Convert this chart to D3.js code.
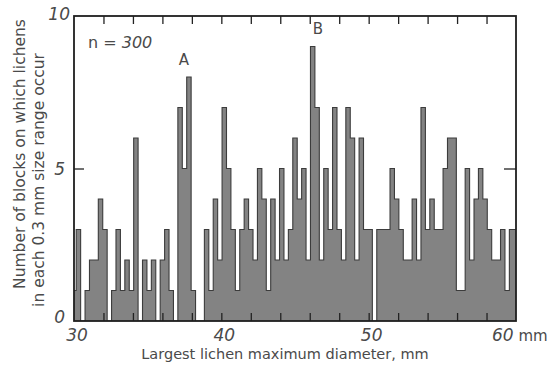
<!DOCTYPE html>
<html>
<head>
<meta charset="utf-8">
<script src="https://cdn.jsdelivr.net/npm/d3@7"></script>
<style>
  html, body { margin: 0; padding: 0; background: #fff; }
  svg { display: block; }
</style>
</head>
<body>
<div id="chart"></div>
<script>
// histogram: 0.3 mm bins, centred on 30.0, 30.3, ... 60.0
const binWidth = 0.3;
const firstCentre = 30;
const counts = [
  1, 3, 0, 1, 2, 2, 4, 3, 0, 1, 3, 1, 2, 1, 6, 0,
  2, 1, 2, 0, 2, 3, 1, 0, 7, 5, 8, 1, 0, 0, 3, 1, 4, 2, 7,
  5, 3, 1, 3, 4, 3, 2, 5, 4, 1, 4, 2, 5, 2, 3, 6, 4,
  5, 2, 9, 7, 2, 5, 3, 7, 3, 2, 7, 6, 2, 6, 3,
  3, 0, 3, 3, 3, 5, 4, 3, 2, 2, 4, 2, 7, 3, 4, 3, 3, 5,
  6, 6, 1, 1, 5, 2, 4, 5, 4, 3, 2, 2, 3, 1, 3, 3
];
const xLabelTicks = [30, 40, 50, 60];
const xMinorTicks = [32, 34, 36, 38, 40, 42, 44, 46, 48, 50, 52, 54, 56, 58];
const yTicks = [0, 5, 10];
const peaks = [{ label: 'A', x: 37.45, y: 8.4 }, { label: 'B', x: 46.55, y: 9.4 }];

const width = 556, height = 372;
const margin = { top: 16, right: 40, bottom: 51, left: 74 };

const bins = counts.map((c, i) => ({ centre: firstCentre + i * binWidth, count: c }));

const x = d3.scaleLinear().domain([30, 60]).range([margin.left, width - margin.right]);
const y = d3.scaleLinear().domain([0, 10]).range([height - margin.bottom, margin.top]);

const textColor = '#4a4a4a';
const font = "'DejaVu Sans', sans-serif";

const svg = d3.select('#chart').append('svg')
  .attr('width', width)
  .attr('height', height)
  .style('font-family', font);

svg.append('clipPath').attr('id', 'plot-clip')
  .append('rect')
    .attr('x', x(30)).attr('y', y(10))
    .attr('width', x(60) - x(30)).attr('height', y(0) - y(10));

const plot = svg.append('g').attr('clip-path', 'url(#plot-clip)');

// step points: left edge of every bin, plus the right edge of the last one
const stepPts = bins.map(d => [d.centre - binWidth / 2, d.count]);
stepPts.push([bins[bins.length - 1].centre + binWidth / 2, bins[bins.length - 1].count]);

plot.append('path')
  .datum(stepPts)
  .attr('fill', '#838383')
  .attr('d', d3.area().x(d => x(d[0])).y0(y(0)).y1(d => y(d[1])).curve(d3.curveStepAfter));

plot.append('path')
  .datum(stepPts)
  .attr('fill', 'none')
  .attr('stroke', '#3c3c3c')
  .attr('stroke-width', 1.1)
  .attr('d', d3.line().x(d => x(d[0])).y(d => y(d[1])).curve(d3.curveStepAfter));

// ticks (inside the frame)
svg.append('g')
  .attr('transform', `translate(0,${y(0)})`)
  .call(d3.axisBottom(x).tickValues(xMinorTicks).tickSizeInner(-8).tickSizeOuter(0).tickFormat(''))
  .call(g => g.select('.domain').remove())
  .selectAll('line').attr('stroke', '#222').attr('stroke-width', 1.3);

svg.append('g')
  .attr('transform', `translate(0,${y(10)})`)
  .call(d3.axisTop(x).tickValues(xMinorTicks).tickSizeInner(-8).tickSizeOuter(0).tickFormat(''))
  .call(g => g.select('.domain').remove())
  .selectAll('line').attr('stroke', '#222').attr('stroke-width', 1.3);

svg.append('g')
  .attr('transform', `translate(${x(30)},0)`)
  .call(d3.axisLeft(y).tickValues([5]).tickSizeInner(-10).tickSizeOuter(0).tickFormat(''))
  .call(g => g.select('.domain').remove())
  .selectAll('line').attr('stroke', '#222').attr('stroke-width', 1.3);

svg.append('g')
  .attr('transform', `translate(${x(60)},0)`)
  .call(d3.axisRight(y).tickValues([5]).tickSizeInner(-12).tickSizeOuter(0).tickFormat(''))
  .call(g => g.select('.domain').remove())
  .selectAll('line').attr('stroke', '#222').attr('stroke-width', 1.3);

// frame
svg.append('rect')
  .attr('x', x(30)).attr('y', y(10))
  .attr('width', x(60) - x(30)).attr('height', y(0) - y(10))
  .attr('fill', 'none')
  .attr('stroke', '#1e1e1e')
  .attr('stroke-width', 1.8);

// tick labels
svg.append('g').selectAll('text')
  .data(yTicks)
  .enter()
  .append('text')
    .attr('x', d => x(30) - (d === 10 ? 4 : 9))
    .attr('y', d => y(d) + (d === 10 ? 4 : 6) - (d === 0 ? 4 : 0))
    .attr('text-anchor', 'end')
    .style('font-size', '17px')
    .style('font-style', 'italic')
    .style('fill', textColor)
    .text(d => d);

svg.append('g').selectAll('text')
  .data(xLabelTicks)
  .enter()
  .append('text')
    .attr('x', d => d === 60 ? x(d) - 24 : x(d) + 3)
    .attr('y', y(0) + 20)
    .attr('text-anchor', d => d === 60 ? 'start' : 'middle')
    .style('font-size', '17px')
    .style('fill', textColor)
    .each(function(d) {
      const t = d3.select(this);
      t.append('tspan').style('font-style', 'italic').text(d);
      if (d === 60) t.append('tspan').style('font-size', '15px').text(' mm');
    });

// axis titles
svg.append('text')
  .attr('x', (x(30) + x(60)) / 2 - 10)
  .attr('y', height - 13)
  .attr('text-anchor', 'middle')
  .style('font-size', '14.5px')
  .style('fill', textColor)
  .text('Largest lichen maximum diameter, mm');

const yTitle = svg.append('text')
  .attr('transform', 'rotate(-90)')
  .attr('text-anchor', 'middle')
  .style('font-size', '15.5px')
  .style('fill', textColor);
yTitle.append('tspan').attr('x', -154).attr('y', 25).text('Number of blocks on which lichens');
yTitle.append('tspan').attr('x', -180).attr('y', 44).text('in each 0.3 mm size range occur');

// annotations
svg.append('text')
  .attr('x', 88).attr('y', 48)
  .style('font-size', '16px')
  .style('fill', textColor)
  .text('n = ')
  .append('tspan').style('font-style', 'italic').text('300');

svg.append('g').selectAll('text')
  .data(peaks)
  .enter()
  .append('text')
    .attr('x', d => x(d.x))
    .attr('y', d => y(d.y))
    .attr('text-anchor', 'middle')
    .style('font-size', '15px')
    .style('fill', textColor)
    .text(d => d.label);
</script>
</body>
</html>
